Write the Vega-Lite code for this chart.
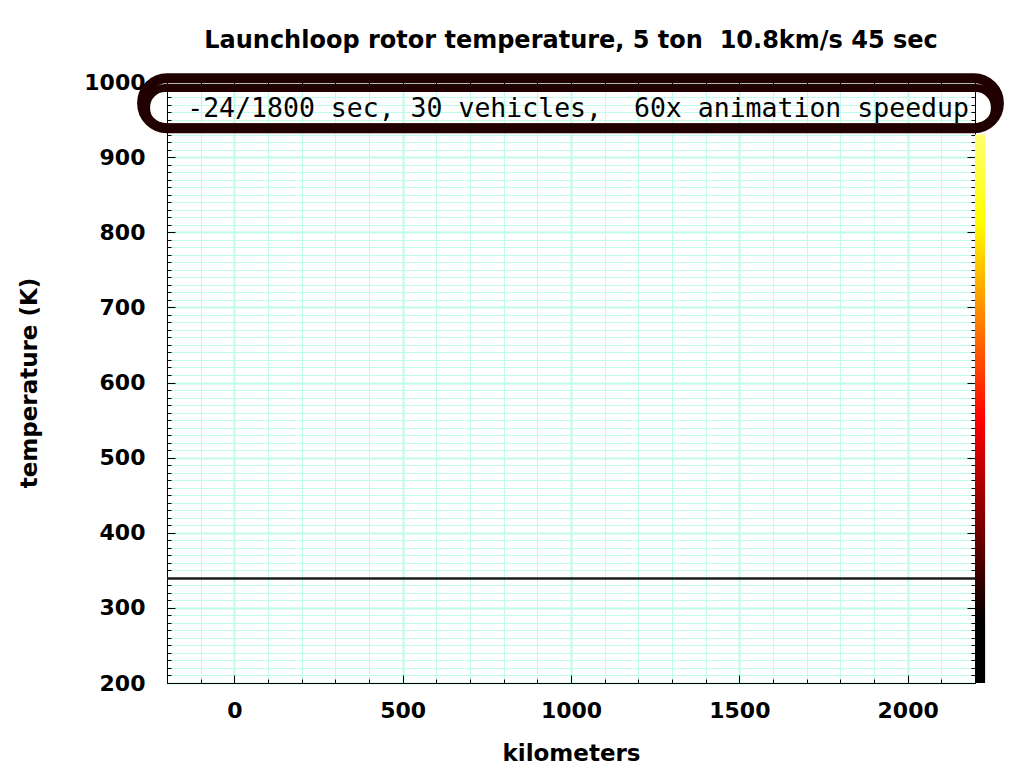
{
  "$schema": "https://vega.github.io/schema/vega-lite/v6.json",
  "width": 808,
  "height": 601,
  "autosize": {"type": "none"},
  "padding": {"left": 167, "top": 82, "right": 49, "bottom": 85},
  "background": "white",
  "title": {
    "text": "Launchloop rotor temperature, 5 ton\u00a0 10.8km/s 45 sec",
    "font": "DejaVu Sans",
    "fontSize": 24,
    "fontWeight": "bold",
    "color": "black",
    "anchor": "middle",
    "offset": 18
  },
  "datasets": {
    "rotor": [
      {"km": -200, "T": 339}, {"km": -100, "T": 339}, {"km": 0, "T": 339},
      {"km": 100, "T": 339}, {"km": 200, "T": 339}, {"km": 300, "T": 339},
      {"km": 400, "T": 339}, {"km": 500, "T": 339}, {"km": 600, "T": 339},
      {"km": 700, "T": 339}, {"km": 800, "T": 339}, {"km": 900, "T": 339},
      {"km": 1000, "T": 339}, {"km": 1100, "T": 339}, {"km": 1200, "T": 339},
      {"km": 1300, "T": 339}, {"km": 1400, "T": 339}, {"km": 1500, "T": 339},
      {"km": 1600, "T": 339}, {"km": 1700, "T": 339}, {"km": 1800, "T": 339},
      {"km": 1900, "T": 339}, {"km": 2000, "T": 339}, {"km": 2100, "T": 339},
      {"km": 2200, "T": 339}
    ],
    "colorbar": [{"x0": 2200, "x1": 2230, "t0": 200, "t1": 930}],
    "outerBox": [{"x0": -274, "x1": 2271, "t0": 938.5, "t1": 1005}],
    "innerBox": [{"x0": -262, "x1": 2259, "t0": 939.5, "t1": 992}],
    "label": [{"km": -140, "T": 954, "text": "-24/1800 sec, 30 vehicles,\u00a0 60x animation speedup"}]
  },
  "layer": [
    {
      "data": {"name": "rotor"},
      "mark": {"type": "line", "color": "#1a1a1a", "strokeWidth": 2.5},
      "encoding": {
        "x": {
          "field": "km", "type": "quantitative",
          "scale": {"domain": [-200, 2200], "nice": false, "zero": false},
          "axis": {
            "orient": "bottom",
            "title": "kilometers",
            "tickCount": 24,
            "format": "d",
            "labelExpr": "datum.value % 500 === 0 ? datum.label : ''",
            "labelOverlap": false,
            "labelFlush": false,
            "tickSize": {"condition": {"test": "datum.value % 500 === 0", "value": -8}, "value": -4},
            "grid": true,
            "gridColor": "#c0fcec",
            "gridWidth": {"condition": {"test": "datum.value % 500 === 0", "value": 2}, "value": 1},
            "labelPadding": 25,
            "titlePadding": 17,
            "titleFontSize": 23
          }
        },
        "y": {
          "field": "T", "type": "quantitative",
          "scale": {"domain": [200, 1000], "nice": false, "zero": false},
          "axis": {
            "orient": "left",
            "title": "temperature (K)",
            "tickCount": 80,
            "format": "d",
            "labelExpr": "datum.value % 100 === 0 ? datum.label : ''",
            "labelOverlap": false,
            "labelFlush": false,
            "tickSize": {"condition": {"test": "datum.value % 100 === 0", "value": -8}, "value": -4},
            "grid": true,
            "gridColor": "#c0fcec",
            "gridWidth": {"condition": {"test": "datum.value % 100 === 0", "value": 2}, "value": 1},
            "labelPadding": 30,
            "titlePadding": 42,
            "titleFontSize": 23
          }
        }
      }
    },
    {
      "data": {"name": "colorbar"},
      "mark": {
        "type": "rect",
        "color": {
          "gradient": "linear",
          "x1": 0, "y1": 1, "x2": 0, "y2": 0,
          "stops": [
            {"offset": 0, "color": "#000000"},
            {"offset": 0.11, "color": "#000000"},
            {"offset": 0.48, "color": "#ff0000"},
            {"offset": 0.84, "color": "#ffff00"},
            {"offset": 1, "color": "#ffff70"}
          ]
        }
      },
      "encoding": {
        "x": {
          "field": "x0", "type": "quantitative",
          "axis": {
            "orient": "top", "title": null, "labels": false, "grid": false,
            "tickCount": 24,
            "tickSize": {"condition": {"test": "datum.value % 500 === 0", "value": -8}, "value": -4}
          }
        },
        "x2": {"field": "x1"},
        "y": {
          "field": "t0", "type": "quantitative",
          "axis": {
            "orient": "right", "title": null, "labels": false, "grid": false,
            "tickCount": 80,
            "tickSize": {"condition": {"test": "datum.value % 100 === 0", "value": -8}, "value": -4}
          }
        },
        "y2": {"field": "t1"}
      }
    },
    {
      "data": {"name": "outerBox"},
      "mark": {"type": "rect", "fill": null, "stroke": "#200000", "strokeWidth": 10, "cornerRadius": 25},
      "encoding": {
        "x": {"field": "x0", "type": "quantitative", "axis": null},
        "x2": {"field": "x1"},
        "y": {"field": "t0", "type": "quantitative", "axis": null},
        "y2": {"field": "t1"}
      }
    },
    {
      "data": {"name": "innerBox"},
      "mark": {"type": "rect", "fill": null, "stroke": "#200000", "strokeWidth": 8, "cornerRadius": 19},
      "encoding": {
        "x": {"field": "x0", "type": "quantitative", "axis": null},
        "x2": {"field": "x1"},
        "y": {"field": "t0", "type": "quantitative", "axis": null},
        "y2": {"field": "t1"}
      }
    },
    {
      "data": {"name": "label"},
      "mark": {"type": "text", "align": "left", "baseline": "alphabetic", "font": "DejaVu Sans Mono", "fontSize": 26.5, "color": "black"},
      "encoding": {
        "x": {"field": "km", "type": "quantitative", "axis": null},
        "y": {"field": "T", "type": "quantitative", "axis": null},
        "text": {"field": "text"}
      }
    }
  ],
  "resolve": {"axis": {"x": "independent", "y": "independent"}},
  "config": {
    "view": {"stroke": null},
    "axis": {
      "domainColor": "black",
      "domainWidth": 1,
      "tickColor": "black",
      "tickWidth": 1,
      "labelFont": "DejaVu Sans",
      "labelFontWeight": "bold",
      "labelFontSize": 22,
      "labelColor": "black",
      "titleFont": "DejaVu Sans",
      "titleFontWeight": "bold",
      "titleFontSize": 23,
      "titleColor": "black"
    }
  }
}
